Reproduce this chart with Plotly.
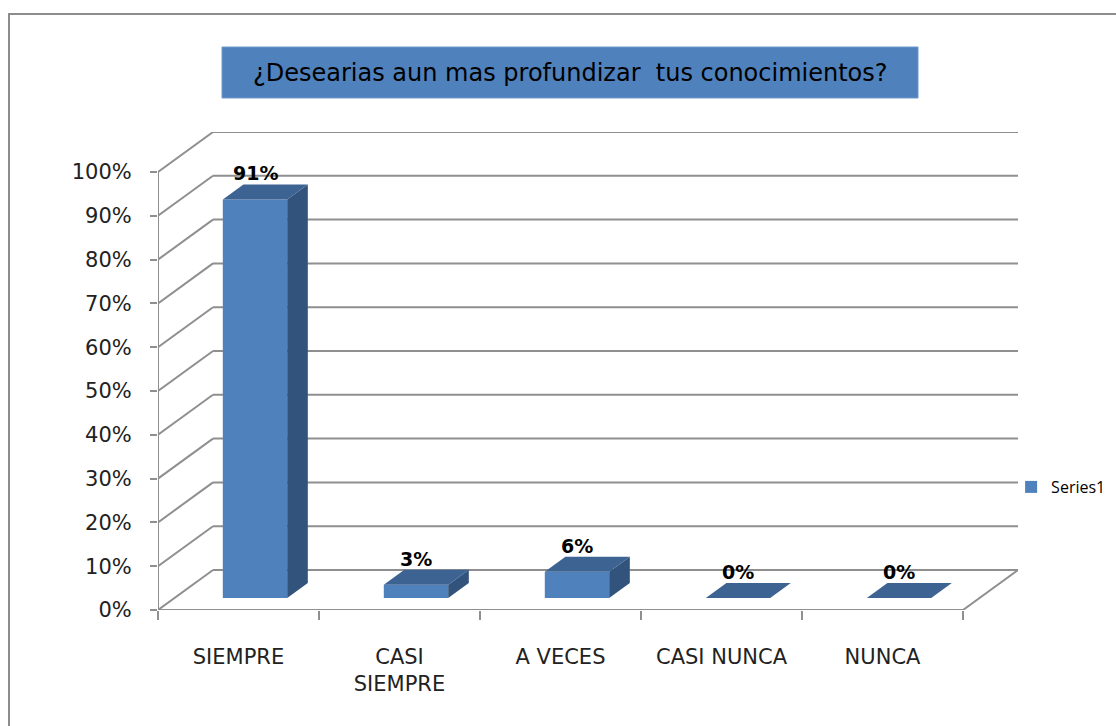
import plotly.graph_objects as go

# ---- data ----
categories = ["SIEMPRE", "CASI<br>SIEMPRE", "A VECES", "CASI NUNCA", "NUNCA"]
values = [91, 3, 6, 0, 0]
value_labels = ["91%", "3%", "6%", "0%", "0%"]
y_ticks = [0, 10, 20, 30, 40, 50, 60, 70, 80, 90, 100]
y_tick_labels = [f"{v}%" for v in y_ticks]
series_name = "Series1"
title_text = "¿Desearias aun mas profundizar  tus conocimientos?"

# ---- 3D look (style) ----
DX = 55 / 161.0      # depth offset in x units
DY = 40 / 4.38       # depth offset in y units
D0, D1 = 0.30, 0.675  # bar depth start / end (fraction of full depth)
BW = 0.40            # bar width
FONT = "DejaVu Sans"
GRID = "#8f8f8f"
FRONT = "#4F81BD"
TOP = "#3C6391"
SIDE = "#31537C"

n = len(categories)
xs = list(range(n))
x0_axis, x1_axis = -0.5, n - 0.5

fig = go.Figure()

# front faces of bars
b0 = D0 * DY
fig.add_trace(go.Bar(
    x=[i + D0 * DX for i in xs], y=values, base=b0, width=BW,
    marker=dict(color=FRONT, line=dict(width=0)), name=series_name,
    showlegend=True, hoverinfo="skip"))

dd = D1 - D0
for i, v in zip(xs, values):
    xl = i + D0 * DX - BW / 2
    xr = xl + BW
    top = v + b0
    # side face
    if v > 0:
        fig.add_trace(go.Scatter(
            x=[xr, xr, xr + dd * DX, xr + dd * DX, xr],
            y=[b0, top, top + dd * DY, b0 + dd * DY, b0],
            mode="lines", fill="toself", fillcolor=SIDE,
            line=dict(width=0, color=SIDE), showlegend=False, hoverinfo="skip"))
    # top face
    fig.add_trace(go.Scatter(
        x=[xl, xr, xr + dd * DX, xl + dd * DX, xl],
        y=[top, top, top + dd * DY, top + dd * DY, top],
        mode="lines", fill="toself", fillcolor=TOP,
        line=dict(width=0, color=TOP), showlegend=False, hoverinfo="skip"))

shapes = []
# back wall gridlines + left wall diagonals
for v in y_ticks:
    shapes.append(dict(type="line", xref="x", yref="y", layer="below",
                       x0=x0_axis + DX, x1=x1_axis + DX, y0=v + DY, y1=v + DY,
                       line=dict(color=GRID, width=2)))
    shapes.append(dict(type="line", xref="x", yref="y", layer="below",
                       x0=x0_axis, x1=x0_axis + DX, y0=v, y1=v + DY,
                       line=dict(color=GRID, width=2)))
# floor right edge
shapes.append(dict(type="line", xref="x", yref="y", layer="below",
                   x0=x1_axis, x1=x1_axis + DX, y0=0, y1=DY,
                   line=dict(color=GRID, width=2)))
# front axis lines
shapes.append(dict(type="line", xref="x", yref="y", layer="below",
                   x0=x0_axis, x1=x1_axis, y0=0, y1=0,
                   line=dict(color=GRID, width=2)))
shapes.append(dict(type="line", xref="x", yref="y", layer="below",
                   x0=x0_axis, x1=x0_axis, y0=0, y1=max(y_ticks),
                   line=dict(color=GRID, width=2)))
# outer chart frame
shapes.append(dict(type="rect", xref="paper", yref="paper",
                   x0=(9 - 158) / 860, x1=1.3, y0=-0.4, y1=(610 - 14) / 478,
                   line=dict(color="#8c8c8c", width=2), fillcolor="rgba(0,0,0,0)"))
# title box
shapes.append(dict(type="rect", xref="paper", yref="paper",
                   x0=(222 - 158) / 860, x1=(918 - 158) / 860,
                   y0=(610 - 98) / 478, y1=(610 - 47) / 478,
                   line=dict(color="#6f97c9", width=1), fillcolor="#4F81BD"))

annotations = [dict(
    text=title_text, xref="paper", yref="paper",
    x=(570 - 158) / 860, y=(610 - 73) / 478, xanchor="center", yanchor="middle",
    showarrow=False, font=dict(family=FONT, size=24, color="black"))]
for i, v, lab in zip(xs, values, value_labels):
    annotations.append(dict(
        text=f"<b>{lab}</b>", x=i + D0 * DX, y=v + b0, xref="x", yref="y",
        yshift=26, showarrow=False, xanchor="center", yanchor="middle",
        font=dict(family=FONT, size=19, color="black")))

fig.update_layout(
    width=1116, height=726,
    margin=dict(l=158, r=98, t=132, b=116, autoexpand=False),
    paper_bgcolor="white", plot_bgcolor="white",
    shapes=shapes, annotations=annotations,
    showlegend=True,
    legend=dict(x=0.992, y=(610 - 487) / 478, xanchor="left", yanchor="middle",
                font=dict(family="Open Sans", size=16, color="black"),
                bgcolor="rgba(0,0,0,0)"),
    xaxis=dict(range=[x0_axis, x1_axis + DX], tickvals=xs, ticktext=categories,
               showgrid=False, zeroline=False, showline=False, ticks="",
               ticklabelstandoff=32,
               tickfont=dict(family=FONT, size=21, color="#222"),
               minor=dict(tick0=-0.5, dtick=1, ticks="outside", ticklen=9,
                          tickcolor=GRID, tickwidth=2, showgrid=False)),
    yaxis=dict(range=[0, max(y_ticks) + DY], tickvals=y_ticks, ticktext=y_tick_labels,
               showgrid=False, zeroline=False, showline=False,
               ticks="outside", ticklen=7, tickcolor=GRID, tickwidth=2,
               ticklabelstandoff=14,
               tickfont=dict(family=FONT, size=21, color="#222")),
    font=dict(family=FONT),
)

fig.write_html("out.html", config={"displayModeBar": False},
               post_script="document.body.style.margin='0px';")
